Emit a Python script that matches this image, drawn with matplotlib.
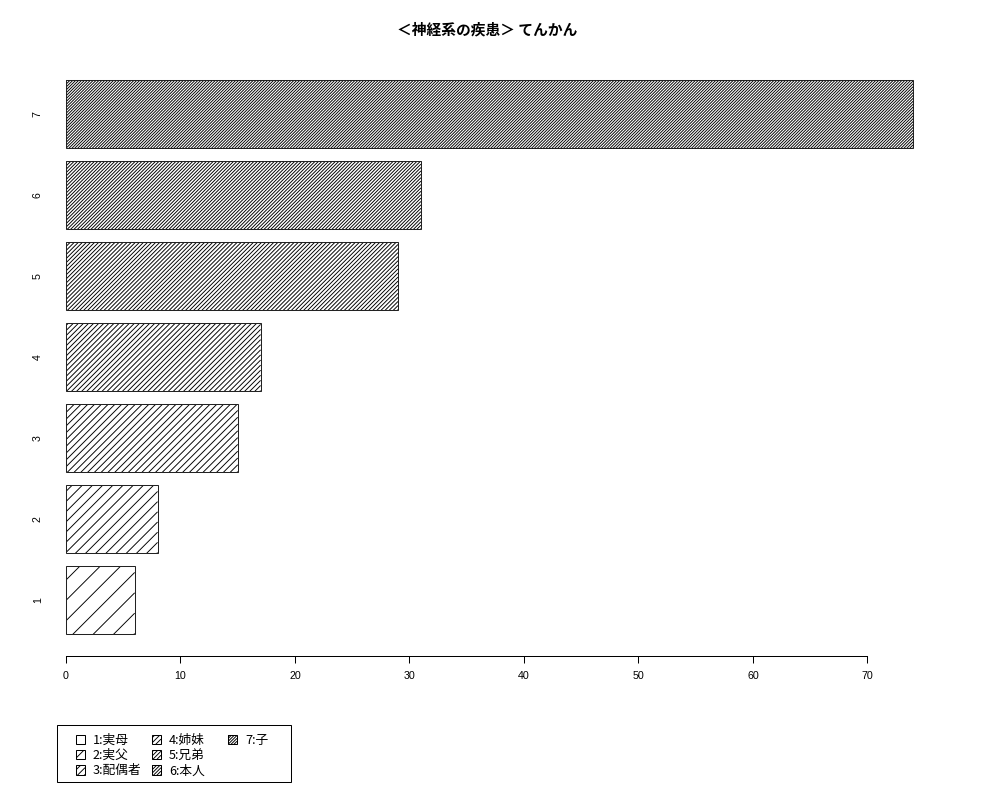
import numpy as np
import matplotlib
matplotlib.use("Agg")
import matplotlib.pyplot as plt
from matplotlib.patches import Rectangle
from matplotlib.collections import LineCollection
from matplotlib.legend_handler import HandlerBase
from matplotlib.transforms import IdentityTransform

# データ
categories = ["1", "2", "3", "4", "5", "6", "7"]
values = [6, 8, 15, 17, 29, 31, 74]
legend_labels = ["1:実母", "2:実父", "3:配偶者", "4:姉妹", "5:兄弟", "6:本人", "7:子"]
title = "＜神経系の疾患＞ てんかん"

plt.rcParams["font.family"] = ["Noto Sans CJK JP", "DejaVu Sans"]

DPI = 122
fig = plt.figure(figsize=(1000 / DPI, 800 / DPI), dpi=DPI)
ax = fig.add_axes([0.0488, 0.1804, 0.8988, 0.7471])

# R の barplot と同じ並び (幅 1, 間隔 0.2)
ypos = 0.7 + 1.2 * np.arange(len(values))
bars = ax.barh(ypos, values, height=1.0, color="none",
               edgecolor="#222222", linewidth=0.6, zorder=2)

ax.set_xlim(-1.5, 77)
ax.set_ylim(-0.128, 8.728)


# 斜線 (R の density = 5,10,...,35 本/inch, 72dpi 換算)
def hatch_step_px(k):
    return 72 * np.sqrt(2) / (5 * k)


for k, (b, v, y) in enumerate(zip(bars, values, ypos), start=1):
    (x0, y0), (x1, y1) = ax.transData.transform([(0, y - 0.5), (v, y + 0.5)])
    step = hatch_step_px(k)
    cs = np.arange(y0 - x1, y1 - x0 + step, step)
    segs = [[(x0, x0 + c), (x1, x1 + c)] for c in cs]
    lc = LineCollection(segs, colors="black", linewidths=0.55,
                        transform=IdentityTransform(), zorder=1)
    ax.add_collection(lc, autolim=False)
    lc.set_clip_path(b)

ax.set_xticks(np.arange(0, 71, 10))
ax.set_yticks(ypos)
ax.set_yticklabels(categories, rotation=90, va="center")
ax.tick_params(axis="y", length=0, pad=3.5, labelsize=6.3)
ax.tick_params(axis="x", length=4, width=0.6, pad=5, labelsize=6.3)
for lab in ax.get_xticklabels() + ax.get_yticklabels():
    lab.set_family(["Liberation Sans", "DejaVu Sans"])

for s in ["top", "right", "left"]:
    ax.spines[s].set_visible(False)
ax.spines["bottom"].set_bounds(0, 70)
ax.spines["bottom"].set_linewidth(0.6)

fig.text(0.487, 1 - 29 / 800, title, ha="center", va="center",
         fontsize=8.7, fontweight="bold")


# 凡例の小さな斜線ボックス
class HatchBox(HandlerBase):
    def __init__(self, k):
        super().__init__()
        self.k = k

    def create_artists(self, legend, orig_handle, xdescent, ydescent,
                       width, height, fontsize, trans):
        size = 5.4
        x0 = -xdescent + width - size
        y0 = -ydescent + (height - size) / 2
        rect = Rectangle((x0, y0), size, size, facecolor="none",
                         edgecolor="black", lw=0.6, transform=trans)
        step = hatch_step_px(self.k) * 72 / DPI
        cs = np.arange(-size, size + step, step)
        segs = [[(x0, y0 + c), (x0 + size, y0 + c + size)] for c in cs]
        lc = LineCollection(segs, colors="black", linewidths=0.55, transform=trans)
        lc.set_clip_path(rect)
        return [lc, rect]


hmap = {b: HatchBox(i + 1) for i, b in enumerate(bars)}

# R の legend のように列幅をそろえる (列ごとに1つの凡例)
columns = [[0, 1, 2], [3, 4, 5], [6]]
for c, idx in enumerate(columns):
    fig.legend([bars[i] for i in idx], [legend_labels[i] for i in idx],
               loc="upper left", handler_map=hmap,
               bbox_to_anchor=((57 + 76 * c) / 1000, 1 - 725 / 800),
               bbox_transform=fig.transFigure,
               fontsize=7.5, frameon=False, handlelength=1.49, handleheight=0.8,
               handletextpad=0.63, labelspacing=0.17,
               borderpad=0.71, borderaxespad=0)
fig.patches.append(Rectangle((57 / 1000, 1 - 782 / 800), 234 / 1000, 57 / 800,
                             transform=fig.transFigure, facecolor="none",
                             edgecolor="black", lw=0.6))

plt.savefig("out.png", dpi=DPI)
